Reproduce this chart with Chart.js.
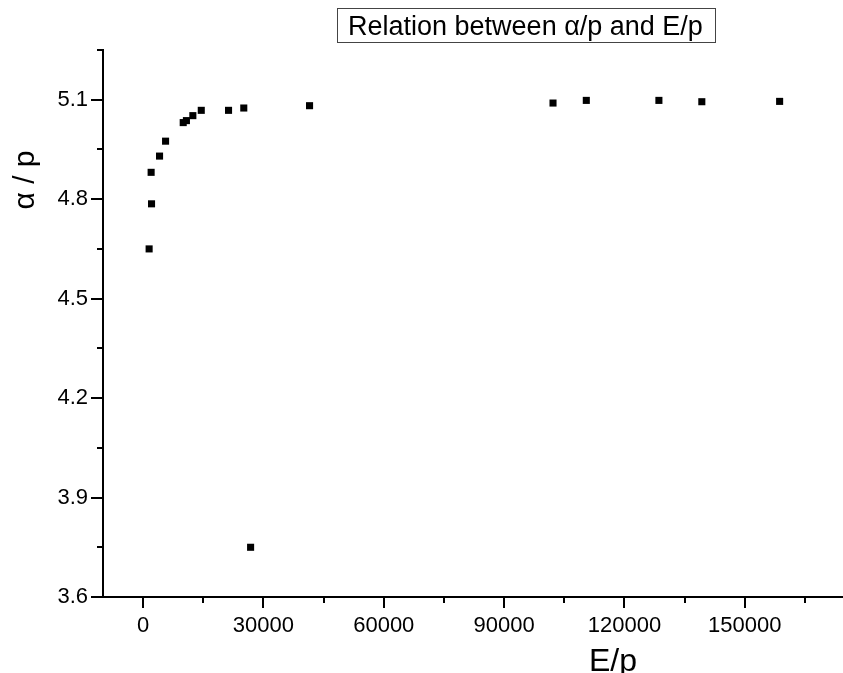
<!DOCTYPE html>
<html>
<head>
<meta charset="utf-8">
<script src="https://cdn.jsdelivr.net/npm/chart.js@4.4.0/dist/chart.umd.min.js"></script>
<style>
  body { margin: 0; background: #fff; }
</style>
</head>
<body>
<canvas id="myChart" width="843" height="673"></canvas>
<script>
// Data
const ePerP = [1500, 2100, 2000, 4100, 5600, 10000, 10800, 12400, 14500, 21300, 25100, 26800, 41500, 102200, 110500, 128600, 139300, 158700];
const alphaPerP = [4.65, 4.786, 4.881, 4.930, 4.975, 5.031, 5.037, 5.052, 5.068, 5.068, 5.075, 3.75, 5.082, 5.090, 5.098, 5.098, 5.094, 5.095];

// Axis ticks
const xMajorTicks = [0, 30000, 60000, 90000, 120000, 150000];
const xMinorTicks = [15000, 45000, 75000, 105000, 135000, 165000];
const yMajorTicks = [3.6, 3.9, 4.2, 4.5, 4.8, 5.1];
const yMinorTicks = [3.75, 4.05, 4.35, 4.65, 4.95, 5.25];

const titleText = 'Relation between \u03b1/p and E/p';
const xTitle = 'E/p';
const yTitle = '\u03b1 / p';

const FONT = "'Liberation Sans', Arial, sans-serif";

// Draws tick marks, the boxed title and the axis titles
const decorations = {
    id: 'decorations',
    afterDraw(chart) {
        const ctx = chart.ctx;
        const area = chart.chartArea;
        const xs = chart.scales.x;
        const ys = chart.scales.y;
        ctx.save();
        ctx.strokeStyle = '#000';
        ctx.lineWidth = 2;
        ctx.beginPath();
        xMajorTicks.forEach(v => {
            const px = Math.round(xs.getPixelForValue(v));
            ctx.moveTo(px, area.bottom);
            ctx.lineTo(px, area.bottom + 11);
        });
        xMinorTicks.forEach(v => {
            const px = Math.round(xs.getPixelForValue(v));
            ctx.moveTo(px, area.bottom);
            ctx.lineTo(px, area.bottom + 6);
        });
        yMajorTicks.forEach(v => {
            const py = Math.round(ys.getPixelForValue(v));
            ctx.moveTo(area.left, py);
            ctx.lineTo(area.left - 12, py);
        });
        yMinorTicks.forEach(v => {
            const py = Math.round(ys.getPixelForValue(v));
            ctx.moveTo(area.left, py);
            ctx.lineTo(area.left - 6, py);
        });
        ctx.stroke();

        // boxed title
        ctx.lineWidth = 1;
        ctx.strokeStyle = '#444';
        ctx.strokeRect(337.5, 8.5, 378, 34);
        ctx.fillStyle = '#000';
        ctx.font = '27px ' + FONT;
        ctx.textAlign = 'left';
        ctx.textBaseline = 'alphabetic';
        ctx.fillText(titleText, 348, 34.5);

        // x title, partly cut by the bottom edge
        ctx.font = '32px ' + FONT;
        ctx.fillText(xTitle, 589, 671);

        // y title
        ctx.translate(34, 180);
        ctx.rotate(-Math.PI / 2);
        ctx.font = '30px ' + FONT;
        ctx.textAlign = 'center';
        ctx.fillText(yTitle, 0, 0);
        ctx.restore();
    }
};

const data = {
    datasets: [{
        label: 'alpha/p',
        data: ePerP.map((x, i) => ({ x: x, y: alphaPerP[i] })),
        pointStyle: 'rect',
        pointRadius: 5,
        pointHoverRadius: 5,
        backgroundColor: '#000',
        borderWidth: 0
    }]
};

const config = {
    type: 'scatter',
    data,
    options: {
        responsive: false,
        animation: false,
        layout: { autoPadding: false, padding: { top: 50, left: 0, right: 0, bottom: 0 } },
        plugins: {
            legend: { display: false },
            tooltip: { enabled: false }
        },
        scales: {
            x: {
                type: 'linear',
                min: -10000,
                max: 174500,
                afterBuildTicks: s => { s.ticks = xMajorTicks.map(v => ({ value: v })); },
                afterFit: s => { s.height = 76; },
                grid: { display: false, drawTicks: false },
                border: { display: true, color: '#000', width: 2 },
                ticks: {
                    padding: 16,
                    color: '#000',
                    font: { family: FONT, size: 22 },
                    maxRotation: 0,
                    autoSkip: false,
                    callback: v => String(v)
                }
            },
            y: {
                type: 'linear',
                min: 3.6,
                max: 5.25,
                afterBuildTicks: s => { s.ticks = yMajorTicks.map(v => ({ value: v })); },
                afterFit: s => { s.width = 103; },
                grid: { display: false, drawTicks: false },
                border: { display: true, color: '#000', width: 2 },
                ticks: {
                    padding: 15,
                    color: '#000',
                    font: { family: FONT, size: 22 },
                    autoSkip: false,
                    callback: v => v.toFixed(1)
                }
            }
        }
    },
    plugins: [decorations]
};

const myChart = new Chart(document.getElementById('myChart'), config);
</script>
</body>
</html>
